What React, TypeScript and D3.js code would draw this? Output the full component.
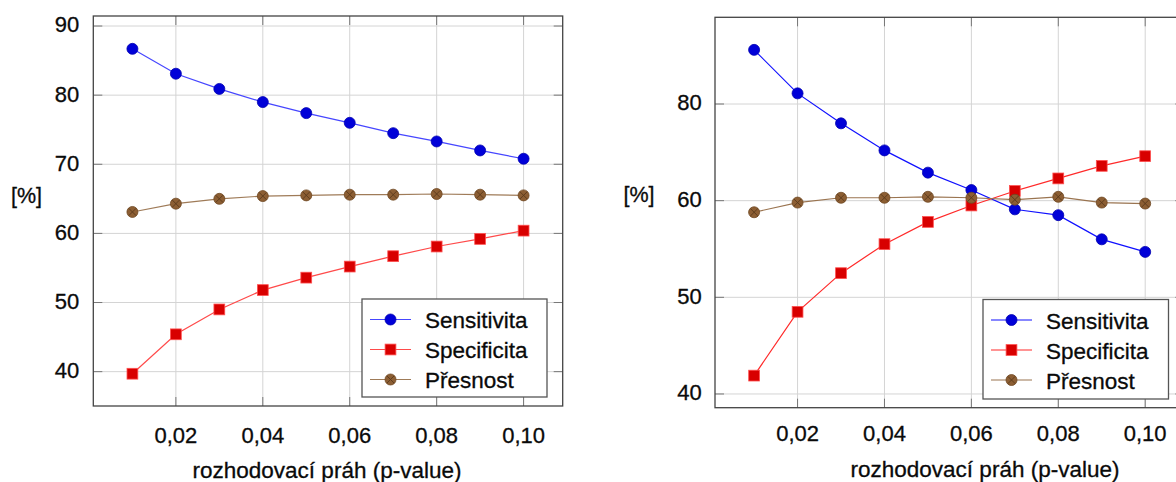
import React from "react";
import * as d3 from "d3";

const pValues = [0.01, 0.02, 0.03, 0.04, 0.05, 0.06, 0.07, 0.08, 0.09, 0.1];
const seriesNames = ["Sensitivita", "Specificita", "Přesnost"];

const leftSens = [86.7, 83.1, 80.9, 79.0, 77.4, 76.0, 74.5, 73.3, 72.0, 70.8];
const leftSpec = [39.7, 45.4, 49.0, 51.8, 53.6, 55.2, 56.7, 58.1, 59.2, 60.4];
const leftAcc = [63.1, 64.3, 65.0, 65.4, 65.5, 65.6, 65.6, 65.7, 65.6, 65.5];

const rightSens = [75.6, 71.1, 68.0, 65.2, 62.9, 61.1, 59.1, 58.5, 56.0, 54.7];
const rightSpec = [41.9, 48.5, 52.5, 55.5, 57.8, 59.5, 61.0, 62.3, 63.6, 64.6];
const rightAcc = [58.8, 59.8, 60.3, 60.3, 60.4, 60.3, 60.1, 60.4, 59.8, 59.7];

const xTicks = [0.02, 0.04, 0.06, 0.08, 0.1];
const xTickLabels = ["0,02", "0,04", "0,06", "0,08", "0,10"];
const leftYTicks = [40, 50, 60, 70, 80, 90];
const leftYTickLabels = ["40", "50", "60", "70", "80", "90"];
const rightYTicks = [40, 50, 60, 70];
const rightYTickLabels = ["40", "50", "60", "80"];

const xLabel = "rozhodovací práh (p-value)";
const yLabel = "[%]";

const FONT = "'Liberation Sans', Arial, sans-serif";
const TXT = { fontFamily: FONT, fill: "#0a0a0a", stroke: "#0a0a0a", strokeWidth: 0.3 };

type PanelProps = {
  x0: number; x1: number; y0: number; y1: number;
  yDomain: [number, number];
  yTicks: number[]; yTickLabels: string[];
  sens: number[]; spec: number[]; acc: number[];
  legend: { x: number; y: number; w: number; h: number };
  yLabelPos: { x: number; y: number };
  xLabelPos: { x: number; y: number };
  xTickBaseline: number;
  yLabelGap: number;
  dark?: boolean;
};

function Marker({ kind, cx, cy }: { kind: number; cx: number; cy: number }) {
  if (kind === 0) {
    return <circle cx={cx} cy={cy} r={5.5} fill="#0000d8" stroke="#0000b0" strokeWidth={0.8} />;
  }
  if (kind === 1) {
    return <rect x={cx - 5.4} y={cy - 5.4} width={10.8} height={10.8} fill="#d80000" stroke="#ff5050" strokeWidth={0.8} />;
  }
  const d = 3.6;
  return (
    <g>
      <circle cx={cx} cy={cy} r={5.5} fill="#8c5e33" stroke="#6e4722" strokeWidth={0.8} />
      <path d={`M${cx - d},${cy - d}L${cx + d},${cy + d}M${cx - d},${cy + d}L${cx + d},${cy - d}`} stroke="#5a3a1c" strokeWidth={0.9} />
    </g>
  );
}

function Panel(p: PanelProps) {
  const x = d3.scaleLinear().domain([0.001, 0.109]).range([p.x0, p.x1]);
  const y = d3.scaleLinear().domain(p.yDomain).range([p.y1, p.y0]);
  const line = d3.line<number>().x((_, i) => x(pValues[i])).y((v) => y(v));
  const series = [p.sens, p.spec, p.acc];
  const lineColors = p.dark ? ["#1010ff", "#ff2a2a", "#9a7450"] : ["#4646ff", "#ff4a4a", "#9f7b58"];
  const tl = 9;
  return (
    <g>
      {xTicks.map((t) => (
        <line key={"gx" + t} x1={x(t)} x2={x(t)} y1={p.y0} y2={p.y1} stroke="#d4d4d4" strokeWidth={1} />
      ))}
      {p.yTicks.map((t) => (
        <line key={"gy" + t} x1={p.x0} x2={p.x1} y1={y(t)} y2={y(t)} stroke="#d4d4d4" strokeWidth={1} />
      ))}
      {xTicks.map((t) => (
        <g key={"tx" + t} stroke="#777" strokeWidth={1}>
          <line x1={x(t)} x2={x(t)} y1={p.y1} y2={p.y1 - tl} />
          <line x1={x(t)} x2={x(t)} y1={p.y0} y2={p.y0 + tl} />
        </g>
      ))}
      {p.yTicks.map((t) => (
        <g key={"ty" + t} stroke="#777" strokeWidth={1}>
          <line x1={p.x0} x2={p.x0 + tl} y1={y(t)} y2={y(t)} />
          <line x1={p.x1} x2={p.x1 - tl} y1={y(t)} y2={y(t)} />
        </g>
      ))}
      <rect x={p.x0} y={p.y0} width={p.x1 - p.x0} height={p.y1 - p.y0} fill="none" stroke="#444" strokeWidth={1.3} />
      {series.map((s, k) => (
        <path key={"l" + k} d={line(s) || ""} fill="none" stroke={lineColors[k]} strokeWidth={1.2} />
      ))}
      {series.map((s, k) =>
        s.map((v, i) => <Marker key={`m${k}-${i}`} kind={k} cx={x(pValues[i])} cy={y(v)} />)
      )}
      {xTicks.map((t, i) => (
        <text key={"xl" + t} x={x(t)} y={p.xTickBaseline} textAnchor="middle" fontSize={22} {...TXT}>
          {xTickLabels[i]}
        </text>
      ))}
      {p.yTicks.map((t, i) => (
        <text key={"yl" + t} x={p.x0 - p.yLabelGap} y={y(t) + 6.4} textAnchor="end" fontSize={22} {...TXT}>
          {p.yTickLabels[i]}
        </text>
      ))}
      <text x={p.xLabelPos.x} y={p.xLabelPos.y} textAnchor="middle" fontSize={22.5} {...TXT}>
        {xLabel}
      </text>
      <text x={p.yLabelPos.x} y={p.yLabelPos.y} fontSize={21.5} {...TXT}>
        {yLabel}
      </text>
      <rect x={p.legend.x} y={p.legend.y} width={p.legend.w} height={p.legend.h} fill="#fff" stroke="#555" strokeWidth={1.3} />
      {seriesNames.map((n, k) => {
        const cy = p.legend.y + 20.5 + k * 30;
        const lx = p.legend.x + 8;
        return (
          <g key={"lg" + k}>
            <line x1={lx} x2={lx + 41} y1={cy} y2={cy} stroke={lineColors[k]} strokeWidth={1.2} />
            <Marker kind={k} cx={lx + 20.5} cy={cy} />
            <text x={p.legend.x + 63} y={cy + 8.5} fontSize={22.5} {...TXT}>
              {n}
            </text>
          </g>
        );
      })}
    </g>
  );
}

export default function App() {
  return (
    <svg width={1176} height={482} style={{ position: "absolute", left: 0, top: 0, background: "#fff" }}>
      <rect x={0} y={0} width={1176} height={482} fill="#fff" />
      <Panel
        x0={93.3} x1={562.7} y0={16} y1={406}
        yDomain={[35.03, 91.45]}
        yTicks={leftYTicks} yTickLabels={leftYTickLabels}
        sens={leftSens} spec={leftSpec} acc={leftAcc}
        legend={{ x: 362, y: 299, w: 185, h: 98 }}
        yLabelPos={{ x: 11, y: 203 }}
        xLabelPos={{ x: 327, y: 478 }}
        xTickBaseline={443}
        yLabelGap={14}
      />
      <Panel
        x0={715} x1={1184.3} y0={17.3} y1={407.7}
        yDomain={[38.58, 78.97]}
        yTicks={rightYTicks} yTickLabels={rightYTickLabels}
        sens={rightSens} spec={rightSpec} acc={rightAcc}
        legend={{ x: 983, y: 299.5, w: 185.5, h: 99.5 }}
        yLabelPos={{ x: 623.5, y: 201.5 }}
        xLabelPos={{ x: 985, y: 477 }}
        xTickBaseline={441}
        yLabelGap={13.3}
        dark
      />
    </svg>
  );
}
